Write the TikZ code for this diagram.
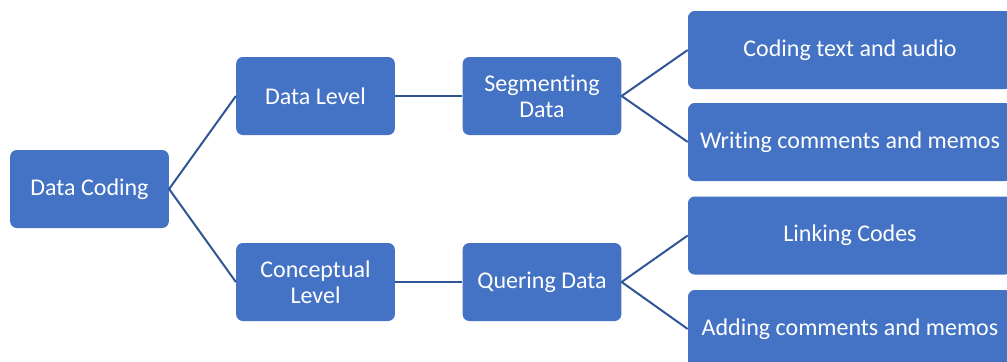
\documentclass[tikz,border=0pt]{standalone}
\usepackage{fontspec}
\setmainfont[Ligatures=NoCommon]{Carlito}
\definecolor{boxblue}{HTML}{4472C4}
\definecolor{lineblue}{HTML}{2F5597}
\tikzset{
	box/.style={fill=boxblue, rounded corners=5pt, text=white, align=center,
		minimum width=119pt, minimum height=58.5pt, inner sep=2pt,
		font=\fontsize{18}{19.5}\selectfont},
	leaf/.style={box, minimum width=243pt},
	link/.style={draw=lineblue, line width=1.5pt}
}
\begin{document}
\begin{tikzpicture}[x=0.75pt,y=-0.75pt]
			\useasboundingbox (0,0) rectangle (1007,361);
			\clip (0,0) rectangle (1007,361);
			\node[box] (coding) at (89.5,189) {Data Coding};
			\node[box] (datalevel) at (315.5,96) {Data Level};
			\node[box] (conceptual) at (315.5,282) {Conceptual\\Level};
			\node[box] (segmenting) at (542,96) {Segmenting\\Data};
			\node[box] (quering) at (542,282) {Quering Data};
			\node[leaf] (codetext) at (850,50) {Coding text and audio};
			\node[leaf] (writing) at (850,142) {Writing comments and memos};
			\node[leaf] (linking) at (850,235.5) {Linking Codes};
			\node[leaf] (adding) at (850,329) {Adding comments and memos};
			\draw [link] (datalevel.west) -- (coding.east) -- (conceptual.west);
			\draw [link] (datalevel.east) -- (segmenting.west);
			\draw [link] (conceptual.east) -- (quering.west);
			\draw [link] (codetext.west) -- (segmenting.east) -- (writing.west);
			\draw [link] (linking.west) -- (quering.east) -- (adding.west);
		\end{tikzpicture}
\end{document}
